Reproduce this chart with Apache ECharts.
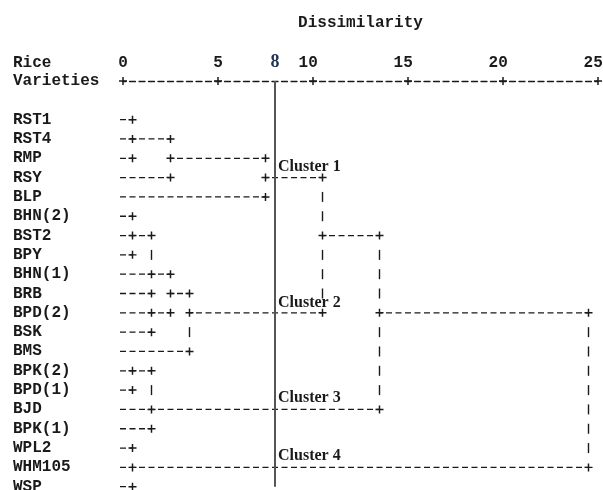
<!DOCTYPE html>
<html>
<head>
<meta charset="utf-8">
<script src="https://cdn.jsdelivr.net/npm/echarts@6/dist/echarts.min.js"></script>
<style>html,body{margin:0;padding:0;background:#fff}#c{width:603px;height:490px}</style>
</head>
<body>
<div id="c"></div>
<script>
// ---- data ----
const leaves = ['RST1','RST4','RMP','RSY','BLP','BHN(2)','BST2','BPY','BHN(1)','BRB',
  'BPD(2)','BSK','BMS','BPK(2)','BPD(1)','BJD','BPK(1)','WPL2','WHM105','WSP'];
// merge nodes get ids 20, 21, ... in order; children refer to leaf index or merge id
const mergeChildren = [
  [0,1,2], [20,3], [21,4],            // 20,21,22 (cluster 1)
  [5,6,7], [23,8,9], [10,11], [24,25], [26,12], // 23..27 (cluster 2)
  [22,27],                            // 28
  [13,14], [29,15,16],                // 29,30 (cluster 3)
  [28,30],                            // 31
  [17,18,19],                         // 32 (cluster 4)
  [31,32]                             // 33 (final)
];
const mergeHeights = [0.5, 2.5, 7.5, 0.5, 1.5, 1.5, 2.5, 3.5, 10.5, 0.5, 1.5, 13.5, 0.5, 24.5];
const mergeRows    = [1, 2, 3, 6, 8, 10, 9, 10, 6, 13, 15, 10, 18, 14];
const tickValues = [0, 5, 10, 15, 20, 25];
const cutValue = 8;
const clusterNames = ['Cluster 1', 'Cluster 2', 'Cluster 3', 'Cluster 4'];
const clusterRows = [2.45, 9.5, 14.4, 17.4];

// ---- build segments from the tree ----
const nLeaf = leaves.length;
const nodeRow = i => i < nLeaf ? i : mergeRows[i - nLeaf];
const nodeH = i => i < nLeaf ? 0 : mergeHeights[i - nLeaf];
const hSegs = [], pluses = [], bars = [];
const seen = new Set();
const addPlus = (x, y) => { const k = x + '|' + y; if (!seen.has(k)) { seen.add(k); pluses.push([x, y]); } };
const finalId = nLeaf + mergeChildren.length - 1;
mergeChildren.forEach((ch, k) => {
  const id = nLeaf + k, h = mergeHeights[k];
  const rows = ch.map(nodeRow);
  const plusRows = new Set(rows);
  ch.forEach(c => {
    const leaf = c < nLeaf;
    hSegs.push([nodeH(c), h, nodeRow(c), leaf ? 1 : 0]);
    addPlus(h, nodeRow(c));
    if (!leaf) addPlus(nodeH(c), nodeRow(c));
  });
  if (id !== finalId) plusRows.add(mergeRows[k]);
  const lo = Math.min(...rows), hi = Math.max(...rows);
  for (let r = lo + 1; r < hi; r++) if (!plusRows.has(r)) bars.push([h, r]);
});

const MONO = 'Liberation Mono';
const SERIF = 'Liberation Serif';
const INK = '#1a1a1a';
const PLUS = 'path://M2.85,0H4.15V2.85H7V4.15H4.15V7H2.85V4.15H0V2.85H2.85Z';

const chart = echarts.init(document.getElementById('c'), null, {renderer: 'canvas'});
const option = {
  backgroundColor: '#fff',
  animation: false,
  grid: {left: 123, right: 5, top: 81, bottom: 3.3, outerBoundsMode: 'none', containLabel: false},
  xAxis: {
    type: 'value', position: 'top', min: 0, max: 25, interval: 5,
    name: 'Dissimilarity', nameLocation: 'middle', nameGap: 50,
    nameTextStyle: {fontFamily: MONO, fontWeight: 'bold', fontSize: 16, color: INK},
    axisLine: {show: true, onZero: false, lineStyle: {color: INK, width: 1.3, type: [6, 3.5], dashOffset: 3}},
    axisTick: {show: false},
    splitLine: {show: false},
    axisLabel: {show: true, margin: 10, fontFamily: MONO, fontWeight: 'bold', fontSize: 16, color: INK,
      formatter: v => tickValues.includes(v) ? (v >= 10 ? v + ' ' : String(v)) : ''}
  },
  yAxis: {
    type: 'value', inverse: true, min: -2, max: leaves.length - 1, interval: 1,
    axisLine: {show: false}, axisTick: {show: false}, splitLine: {show: false},
    axisLabel: {show: true, align: 'left', margin: 110, fontFamily: MONO, fontWeight: 'bold',
      fontSize: 16, color: INK, formatter: v => (Number.isInteger(v) && v >= 0 && leaves[v]) ? leaves[v] : ''}
  },
  series: [
    {
      type: 'custom', clip: false, data: hSegs, encode: {x: [0, 1], y: 2},
      renderItem: (params, api) => {
        const r = api.value(2), leaf = api.value(3) === 1;
        const p2 = api.coord([api.value(1), r]);
        const p1 = api.coord([api.value(0), r]);
        const x1 = leaf ? p1[0] - 3 : p1[0];
        return {type: 'line', shape: {x1: x1, y1: p2[1], x2: p2[0], y2: p2[1]},
          style: {stroke: INK, lineWidth: 1.3, lineDash: [6, 3.5], lineDashOffset: leaf ? 0 : 3}};
      },
      markLine: {
        silent: true, symbol: ['none', 'none'], label: {show: false},
        lineStyle: {color: '#555', width: 2, type: 'solid'},
        data: [{xAxis: cutValue}]
      }
    },
    {type: 'scatter', data: pluses, symbol: PLUS, symbolSize: 8, itemStyle: {color: INK, opacity: 1}, clip: false},
    {type: 'scatter', data: tickValues.map(v => [v, -2]), symbol: PLUS, symbolSize: 8, itemStyle: {color: INK, opacity: 1}, clip: false},
    {type: 'scatter', data: bars, symbol: 'rect', symbolSize: [1.4, 10], itemStyle: {color: INK, opacity: 1}, clip: false},
    {
      type: 'scatter', symbolSize: 0, clip: false, itemStyle: {opacity: 1},
      data: clusterNames.map((n, i) => ({name: n, value: [cutValue, clusterRows[i]]})),
      label: {show: true, position: 'right', distance: 3, formatter: '{b}',
        fontFamily: SERIF, fontWeight: 'bold', fontSize: 16, color: INK}
    }
  ]
};
chart.setOption(option);
const cutX = chart.convertToPixel({xAxisIndex: 0}, cutValue);
chart.setOption({
  graphic: [
    {type: 'text', left: 13, top: 55, style: {text: 'Rice', font: 'bold 16px "Liberation Mono"', fill: INK}},
    {type: 'text', left: 13, top: 73, style: {text: 'Varieties', font: 'bold 16px "Liberation Mono"', fill: INK}},
    {type: 'text', x: cutX, y: 62, style: {text: String(cutValue), font: 'bold 18px "Liberation Serif"',
      fill: '#1f3050', align: 'center', verticalAlign: 'middle'}}
  ]
});
</script>
</body>
</html>
